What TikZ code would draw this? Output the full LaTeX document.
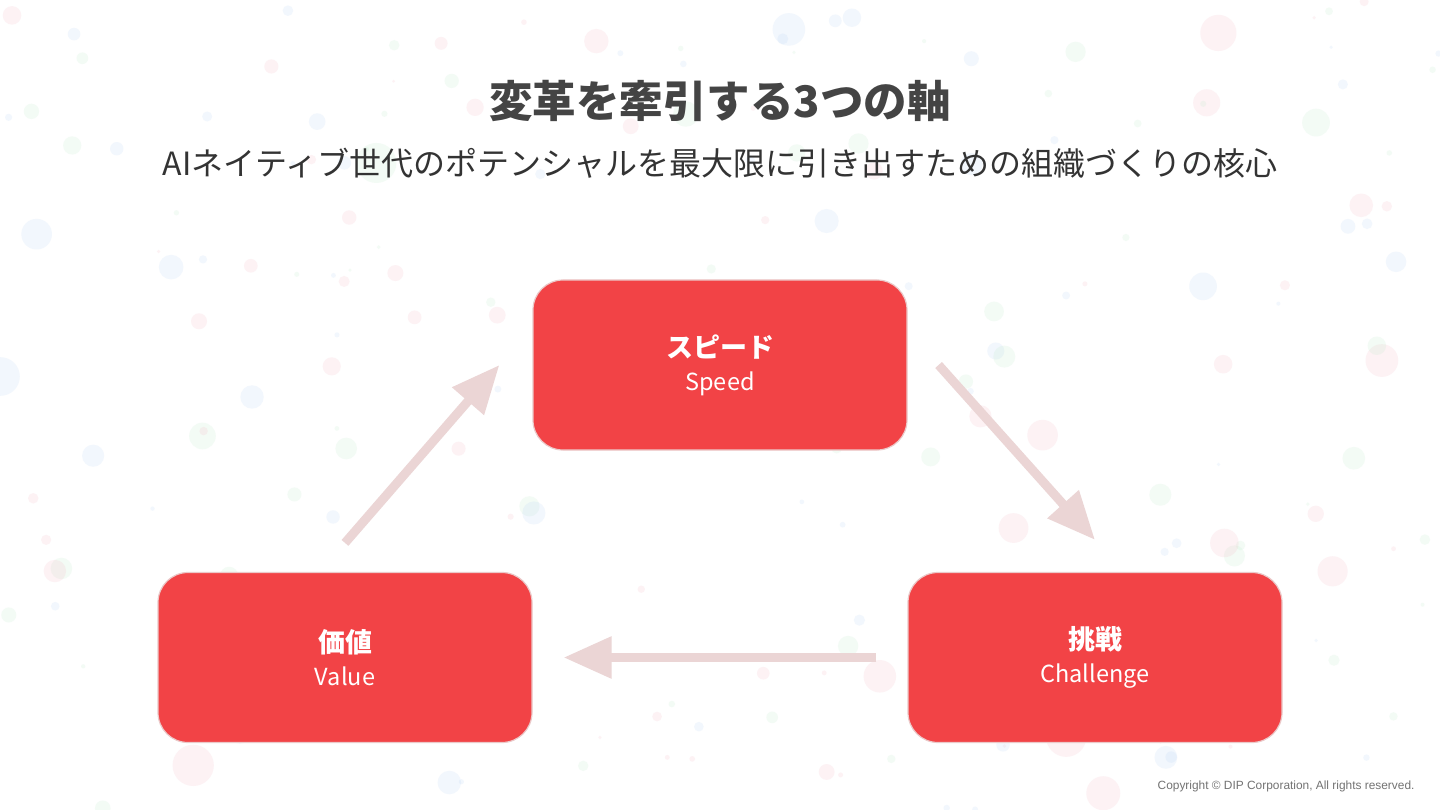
\documentclass[tikz,border=0pt]{standalone}
\usepackage{fontspec}
\setmainfont{Noto Sans CJK JP}
\newfontfamily\copyfont{Liberation Sans}
\usetikzlibrary{arrows.meta}

\definecolor{axisred}{HTML}{F24346}
\definecolor{axisedge}{HTML}{EBC9C9}
\definecolor{flowpink}{HTML}{EBD5D5}
\definecolor{titlegray}{HTML}{444444}
\definecolor{dotpink}{HTML}{F6B8C4}
\definecolor{dotblue}{HTML}{B8D4F6}
\definecolor{dotgreen}{HTML}{BDEBCB}

\tikzset{
	axisbox/.style={fill=axisred, draw=axisedge, line width=1.2pt, rounded corners=30pt,
		minimum width=374pt, minimum height=170pt, text=white, align=center, inner sep=0pt,
		font=\fontsize{23.5}{33}\selectfont},
	flow/.style={draw=flowpink, line width=9pt, -{Triangle[length=48pt,width=40pt]}}
}

\begin{document}
\begin{tikzpicture}[x=1pt, y=-1pt]
	\useasboundingbox (0,0) rectangle (1440,810);
	\fill[white] (0,0) rectangle (1440,810);
	% faint bubbles in the background
	\pgfmathsetseed{17}
	\foreach \i in {1,...,220} {
		\pgfmathsetmacro{\bx}{rnd*1440}
		\pgfmathsetmacro{\by}{rnd*810}
		\pgfmathsetmacro{\br}{1.5+rnd*rnd*20}
		\pgfmathtruncatemacro{\bc}{mod(\i,3)}
		\ifnum\bc=0
			\fill[dotpink, opacity=0.18] (\bx,\by) circle (\br);
		\else\ifnum\bc=1
			\fill[dotblue, opacity=0.18] (\bx,\by) circle (\br);
		\else
			\fill[dotgreen, opacity=0.18] (\bx,\by) circle (\br);
		\fi\fi
	}
	% headings
	\node[font=\fontsize{43.5}{52}\selectfont\bfseries, text=titlegray] (title) at (720,101) {変革を牽引する3つの軸};
	\node[font=\fontsize{32}{38}\selectfont, text=black!80] (subtitle) at (720,163) {AIネイティブ世代のポテンシャルを最大限に引き出すための組織づくりの核心};
	% the three axes
	\node[axisbox] (speed) at (720,365) {{\fontsize{27}{33}\selectfont\bfseries スピード}\\Speed};
	\node[axisbox] (value) at (345,657.5) {{\fontsize{27}{33}\selectfont\bfseries 価値}\\Value};
	\node[axisbox] (challenge) at (1095,657.5) {{\fontsize{27}{33}\selectfont\bfseries 挑戦}\\Challenge};
	% cycle
	\draw[flow] ([yshift=29pt]value.north) -- ([xshift=-33pt]speed.west);
	\draw[flow] ([xshift=31pt]speed.east) -- ([yshift=32pt]challenge.north);
	\draw[flow] ([xshift=-31pt]challenge.west) -- ([xshift=31pt]value.east);
	% footer
	\node[font=\copyfont\fontsize{11.9}{14}\selectfont, text=black!55, anchor=east] (copyright) at (1418,786) {Copyright © DIP Corporation, All rights reserved.};
\end{tikzpicture}
\end{document}
